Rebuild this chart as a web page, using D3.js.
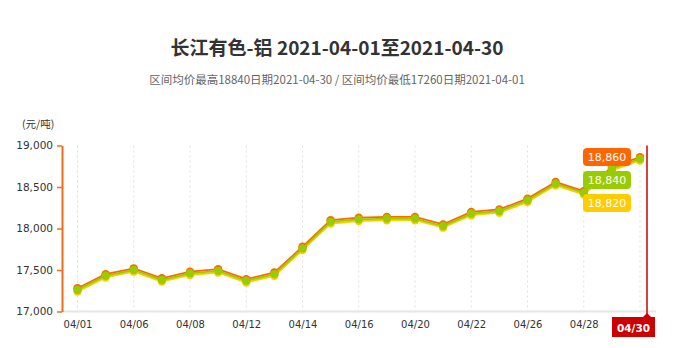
<!DOCTYPE html>
<html>
<head>
<meta charset="utf-8">
<script src="https://cdn.jsdelivr.net/npm/d3@7"></script>
<style>
  html, body { margin: 0; padding: 0; background: #fff; }
  svg { display: block; }
</style>
</head>
<body>
<svg id="chart" width="674" height="348"></svg>
<script>
// Trading days of April 2021
const dates = ["04/01","04/02","04/06","04/07","04/08","04/09","04/12","04/13","04/14","04/15",
               "04/16","04/19","04/20","04/21","04/22","04/23","04/26","04/27","04/28","04/29","04/30"];
// Daily high / average / low quotes (元/吨)
const highPrices = [17280,17450,17520,17400,17480,17510,17390,17470,17780,18100,
                    18130,18140,18140,18050,18200,18230,18360,18560,18450,18740,18860];
const avgPrices  = [17260,17430,17500,17380,17460,17490,17370,17450,17760,18080,
                    18110,18120,18120,18030,18180,18210,18340,18540,18430,18720,18840];
const lowPrices  = [17240,17410,17480,17360,17440,17470,17350,17430,17740,18060,
                    18090,18100,18100,18010,18160,18190,18320,18520,18410,18700,18820];
const yTicks = [17000, 17500, 18000, 18500, 19000];
const xTickLabels = ["04/01","04/06","04/08","04/12","04/14","04/16","04/20","04/22","04/26","04/28","04/30"];

const titleText = "长江有色-铝 2021-04-01至2021-04-30";
const subtitleText = "区间均价最高18840日期2021-04-30 / 区间均价最低17260日期2021-04-01";
const unitText = "(元/吨)";

const colors = { high: "#ff6600", avg: "#99cc00", low: "#ffcc00" };
const fontNum = "'DejaVu Sans', Verdana, sans-serif";
const fontCJK = "'Noto Sans CJK SC', 'Microsoft YaHei', sans-serif";

const svg = d3.select("#chart");

const x = d3.scalePoint().domain(dates).range([77.5, 640]);
const y = d3.scaleLinear().domain([17000, 19000]).range([311.5, 145.5]);
const plotLeft = 62, plotRight = 656;

const lastIdx = dates.length - 1;
const lastDate = dates[lastIdx];

// Title and subtitle
svg.append("text").attr("x", 337).attr("y", 55).attr("text-anchor", "middle")
  .attr("font-family", fontCJK).attr("font-size", 19).attr("font-weight", "bold")
  .attr("fill", "#333").text(titleText);
svg.append("text").attr("x", 337).attr("y", 84).attr("text-anchor", "middle")
  .attr("font-family", fontCJK).attr("font-size", 11.5)
  .attr("fill", "#666").text(subtitleText);

// Unit label
svg.append("text").attr("x", 22).attr("y", 128)
  .attr("font-family", fontCJK).attr("font-size", 10.5)
  .attr("fill", "#333").text(unitText);

// Vertical dashed grid at labelled days
svg.append("g").selectAll("line").data(xTickLabels).join("line")
  .attr("x1", d => x(d)).attr("x2", d => x(d))
  .attr("y1", y(19000)).attr("y2", y(17000) + 4)
  .attr("stroke", "#e0e0e0").attr("stroke-width", 1).attr("stroke-dasharray", "2,3");

// X baseline
svg.append("line").attr("x1", plotLeft).attr("x2", plotRight)
  .attr("y1", y(17000)).attr("y2", y(17000))
  .attr("stroke", "#e6e6e6").attr("stroke-width", 2);

// X axis labels (the hovered last day gets its own highlighted tag below)
const xAxis = d3.axisBottom(x)
  .tickValues(xTickLabels.filter(d => d !== lastDate))
  .tickSize(0).tickPadding(9);
const gx = svg.append("g").attr("transform", `translate(0,${y(17000)})`).call(xAxis);
gx.select(".domain").remove();
gx.selectAll("text").attr("font-family", fontNum).attr("font-size", 10).attr("fill", "#333");

// Y axis
const yAxis = d3.axisLeft(y).tickValues(yTicks).tickFormat(d3.format(",")).tickSize(5).tickSizeOuter(0).tickPadding(4);
const gy = svg.append("g").attr("transform", `translate(${plotLeft},0)`).call(yAxis);
gy.select(".domain").attr("stroke", "#f26c1a").attr("stroke-width", 2);
gy.selectAll(".tick line").attr("stroke", "#f26c1a").attr("stroke-width", 1.5);
gy.selectAll("text").attr("font-family", fontNum).attr("font-size", 10.5).attr("fill", "#333");

// Price series: low underneath, then high, average on top
const series = [
  { key: "low", values: lowPrices },
  { key: "high", values: highPrices },
  { key: "avg", values: avgPrices }
];
const line = d3.line().x((d, i) => x(dates[i])).y(d => y(d));

series.forEach(s => {
  const g = svg.append("g");
  g.append("path").datum(s.values)
    .attr("d", line).attr("fill", "none")
    .attr("stroke", colors[s.key]).attr("stroke-width", 1.8);
  g.selectAll("circle").data(s.values).join("circle")
    .attr("cx", (d, i) => x(dates[i])).attr("cy", d => y(d))
    .attr("r", 4.2).attr("fill", colors[s.key]);
});

// Crosshair at the last day
const cx = x(lastDate) + 7;
svg.append("line").attr("x1", cx).attr("x2", cx)
  .attr("y1", y(19000)).attr("y2", y(17000) + 5)
  .attr("stroke", "#cc0000").attr("stroke-width", 1.5);
const boxX = x(lastDate) - 28, boxY = y(17000) + 5.5, boxW = 43, boxH = 20;
svg.append("path")
  .attr("d", `M${cx - 4},${boxY} L${cx},${boxY - 4} L${cx + 4},${boxY} Z`)
  .attr("fill", "#cc0000");
svg.append("rect").attr("x", boxX).attr("y", boxY).attr("width", boxW).attr("height", boxH)
  .attr("fill", "#cc0000");
svg.append("text").attr("x", boxX + boxW / 2).attr("y", boxY + 14.5).attr("text-anchor", "middle")
  .attr("font-family", fontNum).attr("font-size", 10.5).attr("font-weight", "bold")
  .attr("fill", "#fff").text(lastDate);

// Value tags for the last day, stacked from the highest series down
const tags = [
  { key: "high", value: highPrices[lastIdx] },
  { key: "avg", value: avgPrices[lastIdx] },
  { key: "low", value: lowPrices[lastIdx] }
];
const tagW = 48, tagH = 18, tagGap = 5;
const tagRight = x(lastDate) - 9;
let tagTop = y(tags[0].value) - tagH / 2;
tags.forEach(t => {
  const g = svg.append("g").attr("transform", `translate(${tagRight - tagW},${tagTop})`);
  g.append("rect").attr("width", tagW).attr("height", tagH).attr("rx", 4)
    .attr("fill", colors[t.key]);
  g.append("text").attr("x", tagW / 2).attr("y", 13).attr("text-anchor", "middle")
    .attr("font-family", fontNum).attr("font-size", 11)
    .attr("fill", "#fff").text(d3.format(",")(t.value));
  tagTop += tagH + tagGap;
});
</script>
</body>
</html>
